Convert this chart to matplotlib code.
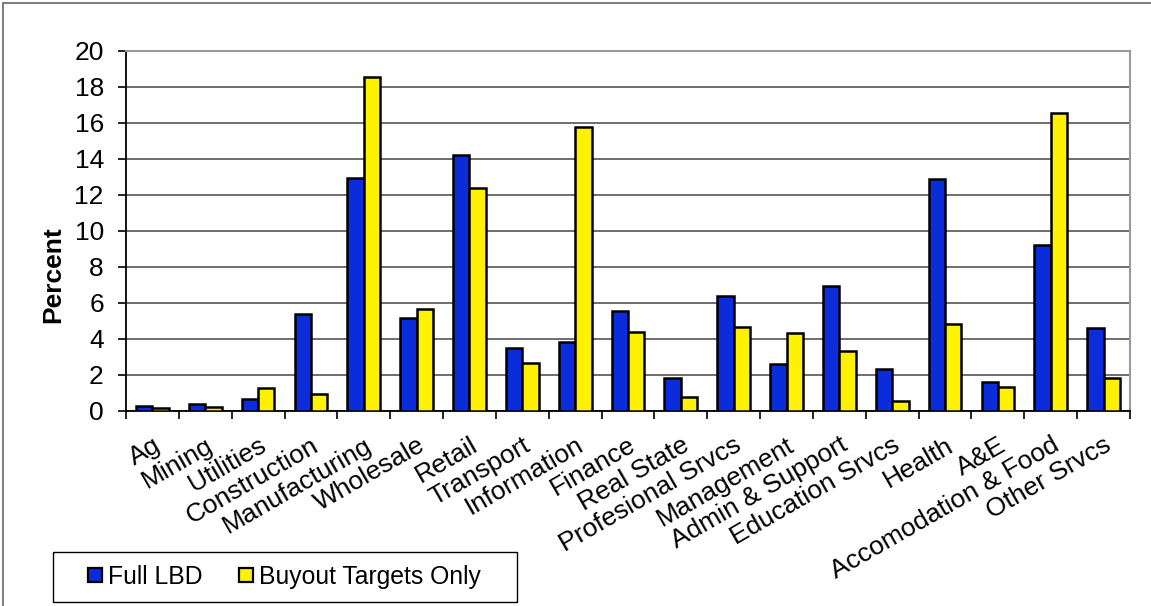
import numpy as np
import matplotlib
matplotlib.use('Agg')
import matplotlib.pyplot as plt
from matplotlib.patches import Rectangle
from matplotlib.lines import Line2D

plt.rcParams['font.family'] = ['Liberation Sans', 'DejaVu Sans']

# data
sectors = ['Ag', 'Mining', 'Utilities', 'Construction', 'Manufacturing', 'Wholesale',
           'Retail', 'Transport', 'Information', 'Finance', 'Real State',
           'Profesional Srvcs', 'Management', 'Admin & Support', 'Education Srvcs',
           'Health', 'A&E', 'Accomodation & Food', 'Other Srvcs']
full_lbd = [0.26, 0.37, 0.63, 5.35, 12.93, 5.13, 14.24, 3.5, 3.82, 5.56, 1.8,
            6.36, 2.58, 6.91, 2.32, 12.91, 1.58, 9.2, 4.58]
buyout = [0.13, 0.22, 1.28, 0.91, 18.56, 5.63, 12.41, 2.63, 15.78, 4.37, 0.74,
          4.67, 4.32, 3.33, 0.52, 4.82, 1.33, 16.56, 1.8]

W, H = 1151, 606
fig = plt.figure(figsize=(W / 100, H / 100), dpi=100)
ax = fig.add_axes([126 / W, 1 - 410.7 / H, (1130 - 126) / W, (410.7 - 51) / H])

blue = '#0A2CDB'
yellow = '#FFF200'
x = np.arange(len(sectors))
bw = 0.31
ax.bar(x - bw / 2, full_lbd, bw, color=blue, edgecolor='black', linewidth=1.8, zorder=3)
ax.bar(x + bw / 2, buyout, bw, color=yellow, edgecolor='black', linewidth=1.8, zorder=3)

ax.set_xlim(-0.5, len(sectors) - 0.5)
ax.set_ylim(0, 20)
ax.set_yticks(range(0, 21, 2))
ax.yaxis.grid(True, color='#6e6e6e', linewidth=1.4, zorder=0)
ax.set_axisbelow(True)

ax.set_xticks(np.arange(len(sectors) + 1) - 0.5)
ax.set_xticklabels([])
ax.set_xticks(x, minor=True)
ax.set_xticklabels(sectors, minor=True, rotation=30, ha='right', va='top',
                   rotation_mode='anchor', fontsize=19)
ax.tick_params(axis='x', which='minor', length=0, pad=16)
ax.tick_params(axis='x', which='major', length=6, width=1.2, direction='out')
ax.tick_params(axis='y', length=6, width=1.2, direction='out', pad=10, labelsize=19)

for s in ['top', 'right']:
    ax.spines[s].set_color('#9a9a9a')
    ax.spines[s].set_linewidth(1.5)
for s in ['left', 'bottom']:
    ax.spines[s].set_color('black')
    ax.spines[s].set_linewidth(1.3)

fig.text(53 / W, 1 - 275 / H, 'Percent', rotation=90, ha='center', va='center',
         fontsize=19, fontweight='bold')

# legend: frame drawn separately, entries centred inside it
lx0, lx1, ly0, ly1 = 52.7, 517, 552, 602
fig.patches.append(Rectangle((lx0 / W, 1 - ly1 / H), (lx1 - lx0) / W, (ly1 - ly0) / H,
                             transform=fig.transFigure, fill=False,
                             edgecolor='black', linewidth=1.0))
handles = [Line2D([], [], marker='s', linestyle='', markersize=9.5, markerfacecolor=c,
                  markeredgecolor='black', markeredgewidth=1.6, label=l)
           for c, l in [(blue, 'Full LBD'), (yellow, 'Buyout Targets Only')]]
fig.legend(handles=handles, ncol=2, loc='center',
           bbox_to_anchor=((lx0 + lx1) / 2 / W, 1 - (ly0 + ly1) / 2 / H),
           fontsize=17.8, frameon=False, handlelength=0.5, handletextpad=0.3,
           columnspacing=1.5, borderpad=0, borderaxespad=0)

# outer chart-area border (cut by the image edge on the right and bottom)
fig.patches.append(Rectangle((3 / W, -0.1), 1.2, 1 - 3 / H + 0.1, transform=fig.transFigure,
                             fill=False, edgecolor='#666666', linewidth=1.2))

fig.savefig('out.png', dpi=100)
